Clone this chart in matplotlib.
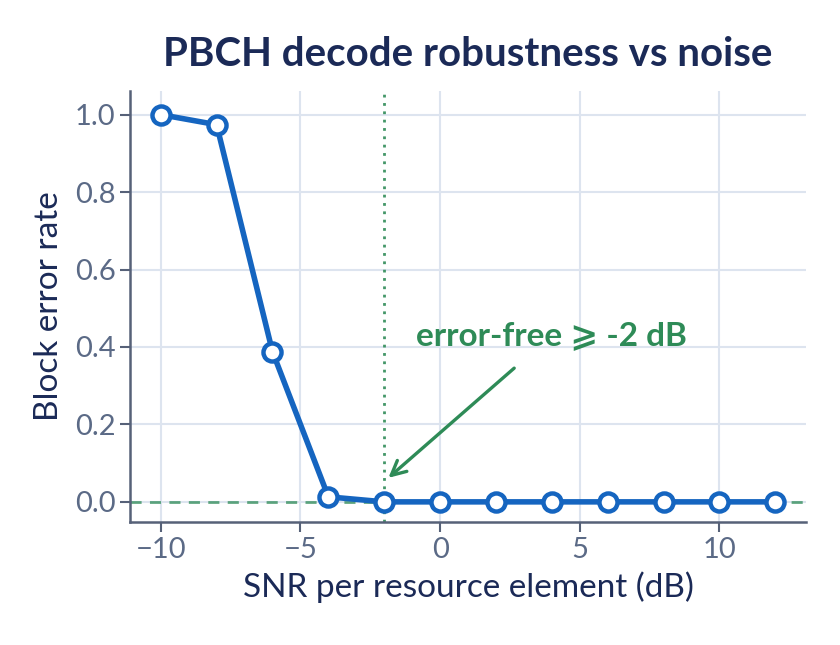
import numpy as np
from matplotlib import pyplot as plt

# SNR sweep and measured BLER
snr_db = [-10, -8, -6, -4, -2, 0, 2, 4, 6, 8, 10, 12]
bler = [1.0, 0.974, 0.388, 0.013, 0.0, 0.0, 0.0, 0.0, 0.0, 0.0, 0.0, 0.0]
threshold_db = -2

navy = '#1b2a57'
blue = '#1565c0'
green = '#2e8b57'
tick_col = '#5b6a86'
spine_col = '#566178'
grid_col = '#dde4ef'

plt.rcParams['font.family'] = ['Lato', 'DejaVu Sans']

fig = plt.figure(figsize=(8.4, 6.45), dpi=100)
ax = fig.add_axes([130 / 840, 1 - 522 / 645, 676 / 840, 431 / 645])

ax.grid(True, color=grid_col, linewidth=1.5)
ax.set_axisbelow(True)

ax.axhline(0, color=green, linestyle=(0, (4, 3)), linewidth=2.0, alpha=0.75, zorder=1)
ax.axvline(threshold_db, color=green, linestyle=(0, (1, 2.0)), linewidth=2.0, alpha=0.9, zorder=1)

ax.plot(snr_db, bler, color=blue, linewidth=4.0, marker='o', markersize=13,
        markerfacecolor='white', markeredgecolor=blue, markeredgewidth=3.2, zorder=3)

ax.annotate('error-free \u2a7e -2 dB', xy=(-1.85, 0.062), xytext=(4.0, 0.43),
            ha='center', va='center', fontsize=24, fontweight='bold', color=green,
            family=['Lato', 'DejaVu Sans'],
            arrowprops=dict(arrowstyle='->', color=green, lw=2.4, mutation_scale=26,
                            shrinkA=17, shrinkB=0))

ax.set_xlim(-11.1, 13.1)
ax.set_ylim(-0.052, 1.061)
ax.set_xticks([-10, -5, 0, 5, 10])
ax.set_xticklabels(['\u221210', '\u22125', '0', '5', '10'])
ax.set_yticks([0, 0.2, 0.4, 0.6, 0.8, 1.0])
ax.set_yticklabels(['0.0', '0.2', '0.4', '0.6', '0.8', '1.0'])

for s in ['top', 'right']:
    ax.spines[s].set_visible(False)
for s in ['left', 'bottom']:
    ax.spines[s].set_color(spine_col)
    ax.spines[s].set_linewidth(1.8)
ax.tick_params(colors=spine_col, labelcolor=tick_col, labelsize=21, length=7, width=1.5)

ax.set_xlabel('SNR per resource element (dB)', fontsize=24, color=navy, labelpad=6)
ax.set_ylabel('Block error rate', fontsize=24, color=navy, labelpad=8)
ax.set_title('PBCH decode robustness vs noise', fontsize=29, fontweight='bold', color=navy, pad=18)

fig.savefig('out.png', dpi=100)
